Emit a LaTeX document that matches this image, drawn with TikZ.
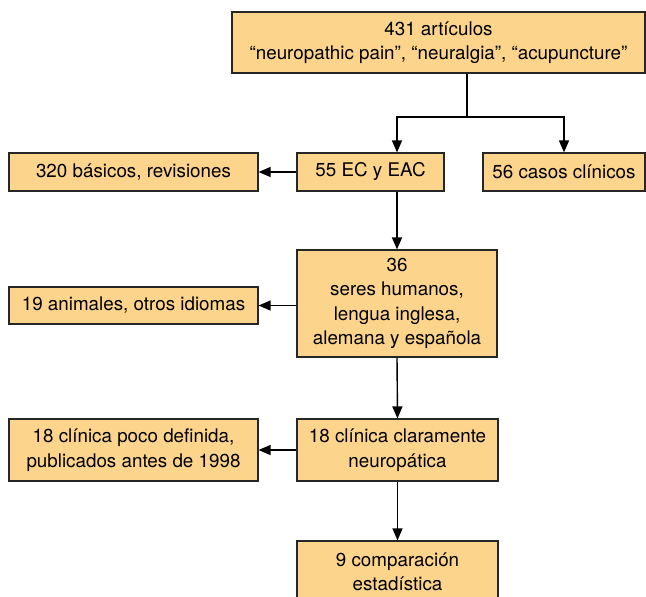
\documentclass[tikz,border=0pt]{standalone}
\usepackage{fontspec}
\setmainfont{TeX Gyre Heros}
\usepackage{tikz}
\usetikzlibrary{arrows.meta,positioning,calc}
\definecolor{boxfill}{HTML}{FDD48B}
\tikzset{
    stagebox/.style={
        rectangle,
        draw=black!85,
        fill=boxfill,
        line width=0.6pt,
        inner sep=0pt,
        align=center,
        font=\fontsize{9.4}{12.2}\selectfont,
    },
    flow/.style={
        draw,
        line width=0.7pt,
        -{Triangle[length=6pt,width=5pt]},
    },
    x=0.5pt, y=-0.5pt,
  }

\begin{document}
\begin{tikzpicture}
              \useasboundingbox (0,0) rectangle (646,596);
              \node [stagebox, minimum width=206.5pt, minimum height=30.5pt] (total) at (438.5,42.5)
                    {431 artículos\\“neuropathic pain”, “neuralgia”, “acupuncture”};
              \node [stagebox, minimum width=73.5pt, minimum height=19pt] (ec) at (370.5,172) {55 EC y EAC};
              \node [stagebox, minimum width=81pt, minimum height=19pt] (casos) at (564,172) {56 casos clínicos};
              \node [stagebox, minimum width=124.5pt, minimum height=19pt] (basicos) at (133.5,172) {320 básicos, revisiones};
              \node [stagebox, minimum width=100pt, minimum height=53.5pt] (humanos) at (397,303.5)
                    {36\\seres humanos,\\lengua inglesa,\\alemana y española};
              \node [stagebox, minimum width=124.5pt, minimum height=18.5pt] (animales) at (133.5,305.5) {19 animales, otros idiomas};
              \node [stagebox, minimum width=100.5pt, minimum height=31pt] (clara) at (397.5,450)
                    {18 clínica claramente\\neuropática};
              \node [stagebox, minimum width=124.5pt, minimum height=31pt] (poco) at (133.5,450)
                    {18 clínica poco definida,\\publicados antes de 1998};
              \node [stagebox, minimum width=100.5pt, minimum height=31pt] (comp) at (397.5,572)
                    {9 comparación\\estadística};

              \coordinate (split) at (467,117);
              \draw [line width=0.7pt] (total.south -| split) -- (split);
              \draw [flow] (split) -| (ec.north -| humanos.north);
              \draw [flow] (split) -| (casos.north);
              \draw [flow] (ec.west) -- (basicos.east);
              \draw [flow] (ec.south -| humanos.north) -- (humanos.north);
              \draw [flow] (humanos.west |- animales.east) -- (animales.east);
              \draw [flow] (humanos.south) -- (clara.north);
              \draw [flow] (clara.west) -- (poco.east);
              \draw [flow] (clara.south) -- (comp.north);
            \end{tikzpicture}
\end{document}
